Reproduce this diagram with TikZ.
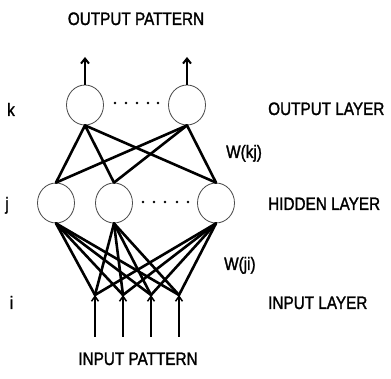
\documentclass[tikz,border=0pt]{standalone}
\usepackage{fontspec}
\newfontfamily\labfont[FakeStretch=0.85,FakeBold=1.5]{Liberation Sans}
\usetikzlibrary{shapes.geometric,arrows.meta}
\tikzset{
  unit/.style={ellipse, draw=black!70, line width=0.8pt, minimum width=37pt, minimum height=40pt, inner sep=0pt},
  wire/.style={line width=2.6pt, line cap=round},
  outarrow/.style={line width=2.4pt, -{Straight Barb[length=5pt,width=8pt,line width=2pt]}},
  inarrow/.style={line width=1.7pt, -{Straight Barb[length=5pt,width=7pt,line width=1.5pt]}},
  lab/.style={font=\labfont\fontsize{18}{21}\selectfont, inner sep=0pt},
  dotmark/.style={fill=black, draw=none}
}
\begin{document}
\begin{tikzpicture}[x=1pt,y=-1pt]
\useasboundingbox (0,0) rectangle (391,379);
% output layer
\node[unit] (o1) at (85,105) {};
\node[unit] (o2) at (187,105) {};
% hidden layer
\node[unit] (h1) at (56,203) {};
\node[unit] (h2) at (114,203) {};
\node[unit] (h3) at (216,203) {};
% input points
\coordinate (in1) at (95,295);
\coordinate (in2) at (123,295);
\coordinate (in3) at (151,295);
\coordinate (in4) at (179,295);
\coordinate (b1) at (95,337);
\coordinate (b2) at (123,337);
\coordinate (b3) at (151,337);
\coordinate (b4) at (179,337);
% output arrow tips
\coordinate (t1) at (85,57);
\coordinate (t2) at (187,57);
% dots
\foreach \x in {115,126,137,148,158} \fill[dotmark] (\x,103) circle (1.3);
\foreach \x in {143,154,165,177,188} \fill[dotmark] (\x,202) circle (1.3);
% output arrows
\draw[outarrow] (o1.north) -- (t1);
\draw[outarrow] (o2.north) -- (t2);
% output-hidden connections
\foreach \o in {o1,o2}
  \foreach \h in {h1,h2,h3}
    \draw[wire] (\o.south) -- (\h.north);
% hidden-input connections
\foreach \h in {h1,h2,h3}
  \foreach \i in {in1,in2,in3,in4}
    \draw[wire] (\h.south) -- (\i);
% input arrows
\foreach \i in {1,2,3,4}
  \draw[inarrow] (b\i) -- (in\i);
% labels
\node[lab, anchor=base] (lop) at (136,25) {OUTPUT PATTERN};
\node[lab, anchor=base] (lk) at (11,116) {k};
\node[lab, anchor=base west] (lol) at (268,115) {OUTPUT LAYER};
\node[lab, anchor=base west] (lwkj) at (226,158) {W(kj)};
\node[lab, anchor=base] (lj) at (7,210) {j};
\node[lab, anchor=base west] (lhl) at (268,210) {HIDDEN LAYER};
\node[lab, anchor=base west] (lwji) at (224,270) {W(ji)};
\node[lab, anchor=base] (li) at (11.5,309) {i};
\node[lab, anchor=base west] (lil) at (268,309) {INPUT LAYER};
\node[lab, anchor=base] (lip) at (138,365) {INPUT PATTERN};
\end{tikzpicture}
\end{document}
